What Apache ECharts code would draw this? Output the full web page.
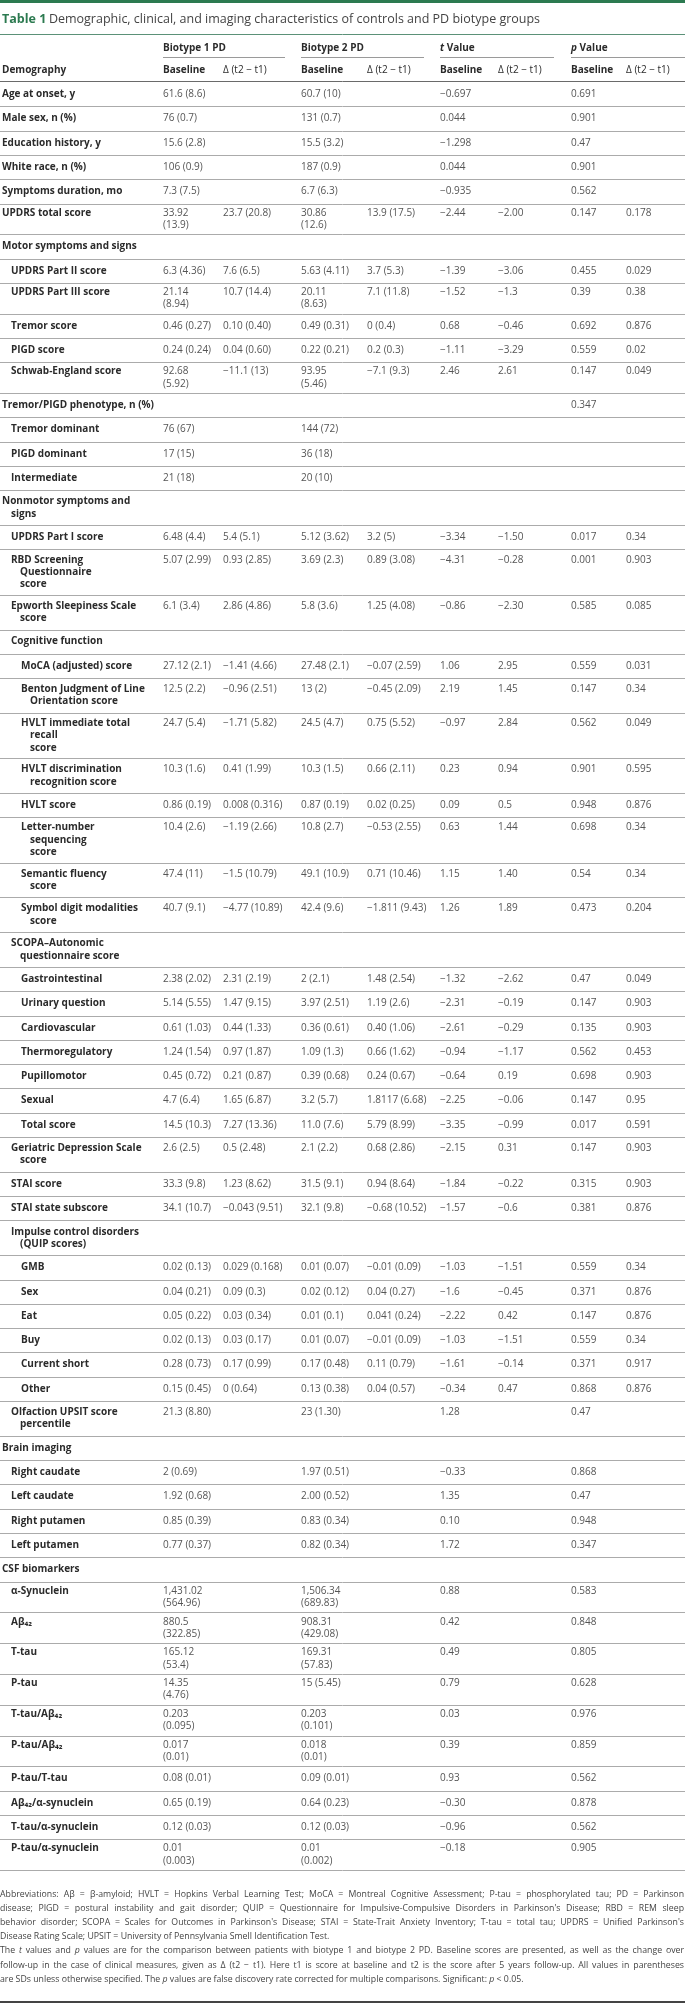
<!DOCTYPE html>
<html>
<head>
<meta charset="utf-8">
<script src="https://cdn.jsdelivr.net/npm/echarts/dist/echarts.min.js"></script>
<style>
  html, body { margin: 0; padding: 0; background: #fff; }
  #c { width: 685px; height: 2009px; }
</style>
</head>
<body>
<div id="c"></div>
<script>
// ---------------- DATA ----------------
const labels = [
  "Age at onset, y", "Male sex, n (%)", "Education history, y", "White race, n (%)", "Symptoms duration, mo",
  "UPDRS total score", "Motor symptoms and signs", "UPDRS Part II score", "UPDRS Part III score", "Tremor score",
  "PIGD score", "Schwab-England score", "Tremor/PIGD phenotype, n (%)", "Tremor dominant", "PIGD dominant",
  "Intermediate", "Nonmotor symptoms and\nsigns", "UPDRS Part I score", "RBD Screening\nQuestionnaire\nscore",
  "Epworth Sleepiness Scale\nscore", "Cognitive function", "MoCA (adjusted) score", "Benton Judgment of Line\nOrientation score",
  "HVLT immediate total\nrecall\nscore", "HVLT discrimination\nrecognition score", "HVLT score", "Letter-number\nsequencing\nscore",
  "Semantic fluency\nscore", "Symbol digit modalities\nscore", "SCOPA–Autonomic\nquestionnaire score", "Gastrointestinal",
  "Urinary question", "Cardiovascular", "Thermoregulatory", "Pupillomotor", "Sexual", "Total score",
  "Geriatric Depression Scale\nscore", "STAI score", "STAI state subscore", "Impulse control disorders\n(QUIP scores)",
  "GMB", "Sex", "Eat", "Buy", "Current short", "Other", "Olfaction UPSIT score\npercentile", "Brain imaging",
  "Right caudate", "Left caudate", "Right putamen", "Left putamen", "CSF biomarkers", "α-Synuclein", "Aβ₄₂", "T-tau",
  "P-tau", "T-tau/Aβ₄₂", "P-tau/Aβ₄₂", "P-tau/T-tau", "Aβ₄₂/α-synuclein", "T-tau/α-synuclein", "P-tau/α-synuclein"
];
const levels = [
  0,0,0,0,0, 0,0,1,1,1, 1,1,0,1,1, 1,0,1,1, 1,1,2,2, 2,2,2,2, 2,2,1,2,
  2,2,2,2,2,2, 1,1,1,1, 2,2,2,2,2,2,1,0, 1,1,1,1,0,1,1,1, 1,1,1,1,1,1,1
];
const b1Base = [
  "61.6 (8.6)","76 (0.7)","15.6 (2.8)","106 (0.9)","7.3 (7.5)",
  "33.92\n(13.9)","","6.3 (4.36)","21.14\n(8.94)","0.46 (0.27)",
  "0.24 (0.24)","92.68\n(5.92)","","76 (67)","17 (15)",
  "21 (18)","","6.48 (4.4)","5.07 (2.99)",
  "6.1 (3.4)","","27.12 (2.1)","12.5 (2.2)",
  "24.7 (5.4)","10.3 (1.6)","0.86 (0.19)","10.4 (2.6)",
  "47.4 (11)","40.7 (9.1)","","2.38 (2.02)",
  "5.14 (5.55)","0.61 (1.03)","1.24 (1.54)","0.45 (0.72)","4.7 (6.4)","14.5 (10.3)",
  "2.6 (2.5)","33.3 (9.8)","34.1 (10.7)","",
  "0.02 (0.13)","0.04 (0.21)","0.05 (0.22)","0.02 (0.13)","0.28 (0.73)","0.15 (0.45)","21.3 (8.80)","",
  "2 (0.69)","1.92 (0.68)","0.85 (0.39)","0.77 (0.37)","","1,431.02\n(564.96)","880.5\n(322.85)","165.12\n(53.4)",
  "14.35\n(4.76)","0.203\n(0.095)","0.017\n(0.01)","0.08 (0.01)","0.65 (0.19)","0.12 (0.03)","0.01\n(0.003)"
];
const b1Delta = [
  "","","","","",
  "23.7 (20.8)","","7.6 (6.5)","10.7 (14.4)","0.10 (0.40)",
  "0.04 (0.60)","−11.1 (13)","","","",
  "","","5.4 (5.1)","0.93 (2.85)",
  "2.86 (4.86)","","−1.41 (4.66)","−0.96 (2.51)",
  "−1.71 (5.82)","0.41 (1.99)","0.008 (0.316)","−1.19 (2.66)",
  "−1.5 (10.79)","−4.77 (10.89)","","2.31 (2.19)",
  "1.47 (9.15)","0.44 (1.33)","0.97 (1.87)","0.21 (0.87)","1.65 (6.87)","7.27 (13.36)",
  "0.5 (2.48)","1.23 (8.62)","−0.043 (9.51)","",
  "0.029 (0.168)","0.09 (0.3)","0.03 (0.34)","0.03 (0.17)","0.17 (0.99)","0 (0.64)","","",
  "","","","","","","","",
  "","","","","","",""
];
const b2Base = [
  "60.7 (10)","131 (0.7)","15.5 (3.2)","187 (0.9)","6.7 (6.3)",
  "30.86\n(12.6)","","5.63 (4.11)","20.11\n(8.63)","0.49 (0.31)",
  "0.22 (0.21)","93.95\n(5.46)","","144 (72)","36 (18)",
  "20 (10)","","5.12 (3.62)","3.69 (2.3)",
  "5.8 (3.6)","","27.48 (2.1)","13 (2)",
  "24.5 (4.7)","10.3 (1.5)","0.87 (0.19)","10.8 (2.7)",
  "49.1 (10.9)","42.4 (9.6)","","2 (2.1)",
  "3.97 (2.51)","0.36 (0.61)","1.09 (1.3)","0.39 (0.68)","3.2 (5.7)","11.0 (7.6)",
  "2.1 (2.2)","31.5 (9.1)","32.1 (9.8)","",
  "0.01 (0.07)","0.02 (0.12)","0.01 (0.1)","0.01 (0.07)","0.17 (0.48)","0.13 (0.38)","23 (1.30)","",
  "1.97 (0.51)","2.00 (0.52)","0.83 (0.34)","0.82 (0.34)","","1,506.34\n(689.83)","908.31\n(429.08)","169.31\n(57.83)",
  "15 (5.45)","0.203\n(0.101)","0.018\n(0.01)","0.09 (0.01)","0.64 (0.23)","0.12 (0.03)","0.01\n(0.002)"
];
const b2Delta = [
  "","","","","",
  "13.9 (17.5)","","3.7 (5.3)","7.1 (11.8)","0 (0.4)",
  "0.2 (0.3)","−7.1 (9.3)","","","",
  "","","3.2 (5)","0.89 (3.08)",
  "1.25 (4.08)","","−0.07 (2.59)","−0.45 (2.09)",
  "0.75 (5.52)","0.66 (2.11)","0.02 (0.25)","−0.53 (2.55)",
  "0.71 (10.46)","−1.811 (9.43)","","1.48 (2.54)",
  "1.19 (2.6)","0.40 (1.06)","0.66 (1.62)","0.24 (0.67)","1.8117 (6.68)","5.79 (8.99)",
  "0.68 (2.86)","0.94 (8.64)","−0.68 (10.52)","",
  "−0.01 (0.09)","0.04 (0.27)","0.041 (0.24)","−0.01 (0.09)","0.11 (0.79)","0.04 (0.57)","","",
  "","","","","","","","",
  "","","","","","",""
];
const tBase = [
  "−0.697","0.044","−1.298","0.044","−0.935",
  "−2.44","","−1.39","−1.52","0.68",
  "−1.11","2.46","","","",
  "","","−3.34","−4.31",
  "−0.86","","1.06","2.19",
  "−0.97","0.23","0.09","0.63",
  "1.15","1.26","","−1.32",
  "−2.31","−2.61","−0.94","−0.64","−2.25","−3.35",
  "−2.15","−1.84","−1.57","",
  "−1.03","−1.6","−2.22","−1.03","−1.61","−0.34","1.28","",
  "−0.33","1.35","0.10","1.72","","0.88","0.42","0.49",
  "0.79","0.03","0.39","0.93","−0.30","−0.96","−0.18"
];
const tDelta = [
  "","","","","",
  "−2.00","","−3.06","−1.3","−0.46",
  "−3.29","2.61","","","",
  "","","−1.50","−0.28",
  "−2.30","","2.95","1.45",
  "2.84","0.94","0.5","1.44",
  "1.40","1.89","","−2.62",
  "−0.19","−0.29","−1.17","0.19","−0.06","−0.99",
  "0.31","−0.22","−0.6","",
  "−1.51","−0.45","0.42","−1.51","−0.14","0.47","","",
  "","","","","","","","",
  "","","","","","",""
];
const pBase = [
  "0.691","0.901","0.47","0.901","0.562",
  "0.147","","0.455","0.39","0.692",
  "0.559","0.147","0.347","","",
  "","","0.017","0.001",
  "0.585","","0.559","0.147",
  "0.562","0.901","0.948","0.698",
  "0.54","0.473","","0.47",
  "0.147","0.135","0.562","0.698","0.147","0.017",
  "0.147","0.315","0.381","",
  "0.559","0.371","0.147","0.559","0.371","0.868","0.47","",
  "0.868","0.47","0.948","0.347","","0.583","0.848","0.805",
  "0.628","0.976","0.859","0.562","0.878","0.562","0.905"
];
const pDelta = [
  "","","","","",
  "0.178","","0.029","0.38","0.876",
  "0.02","0.049","","","",
  "","","0.34","0.903",
  "0.085","","0.031","0.34",
  "0.049","0.595","0.876","0.34",
  "0.34","0.204","","0.049",
  "0.903","0.903","0.453","0.903","0.95","0.591",
  "0.903","0.903","0.876","",
  "0.34","0.876","0.876","0.34","0.917","0.876","","",
  "","","","","","","","",
  "","","","","","",""
];
const groupHeaders = ["Biotype 1 PD", "Biotype 2 PD", "{i|t} Value", "{i|p} Value"];
const subHeaders = ["Baseline", "Δ (t2 − t1)"];
const stubHeader = "Demography";
const titleLead = "Table 1";
const titleText = "Demographic, clinical, and imaging characteristics of controls and PD biotype groups";
const footLines = [
  "Abbreviations: Aβ = β-amyloid; HVLT = Hopkins Verbal Learning Test; MoCA = Montreal Cognitive Assessment; P-tau = phosphorylated tau; PD = Parkinson",
  "disease; PIGD = postural instability and gait disorder; QUIP = Questionnaire for Impulsive-Compulsive Disorders in Parkinson's Disease; RBD = REM sleep",
  "behavior disorder; SCOPA = Scales for Outcomes in Parkinson's Disease; STAI = State-Trait Anxiety Inventory; T-tau = total tau; UPDRS = Unified Parkinson's",
  "Disease Rating Scale; UPSIT = University of Pennsylvania Smell Identification Test.",
  "The {i|t} values and {i|p} values are for the comparison between patients with biotype 1 and biotype 2 PD. Baseline scores are presented, as well as the change over",
  "follow-up in the case of clinical measures, given as Δ (t2 − t1). Here t1 is score at baseline and t2 is the score after 5 years follow-up. All values in parentheses",
  "are SDs unless otherwise specified. The {i|p} values are false discovery rate corrected for multiple comparisons. Significant: {i|p} < 0.05."
];
const footJustified = [true, true, true, false, true, true, false];

// ---------------- LAYOUT ----------------
const W = 685, H = 2009;
const FONT = '"Open Sans", "Noto Sans", sans-serif';
const COL_X = [163, 223, 301, 367, 440, 498, 571, 626];
const GROUP_SPAN = [[163, 285], [301, 424], [440, 554], [571, 685]];
const LEVEL_X = [2, 11, 21];
const CONT_INDENT = 9;
const ROW_START = 82, PITCH = 24.3, EXTRA_LABEL = 10.5, EXTRA_VALUE = 6.5, LHC = 12.3;
const cols = [b1Base, b1Delta, b2Base, b2Delta, tBase, tDelta, pBase, pDelta];

const labelLines = labels.map(l => l.split('\n').length);
const valueLines = labels.map((l, i) => {
  let n = 1;
  cols.forEach(c => { if (c[i]) n = Math.max(n, c[i].split('\n').length); });
  return n;
});
const rowH = labels.map((l, i) =>
  PITCH + Math.max((labelLines[i] - 1) * EXTRA_LABEL, (valueLines[i] - 1) * EXTRA_VALUE));
const rowTop = [];
let acc = ROW_START;
rowH.forEach(h => { rowTop.push(acc); acc += h; });

const LABEL_COLOR = '#2b2b2b', VALUE_COLOR = '#555555', RULE_COLOR = '#ababab';
const GREEN = '#2c7a50';

function txt(api, x, y, text, o) {
  const p = api.coord([x, y]);
  return {
    type: 'text', x: p[0], y: p[1],
    style: Object.assign({
      text: text, fill: VALUE_COLOR, fontSize: 10, fontFamily: FONT,
      fontWeight: 'normal', align: 'left', verticalAlign: 'middle'
    }, o || {})
  };
}
function hline(api, x1, x2, y, color, w) {
  const a = api.coord([x1, y]), b = api.coord([x2, y]);
  const yy = Math.round(a[1]) + ((w || 1) % 2 ? 0.5 : 0);
  return { type: 'line', shape: { x1: a[0], y1: yy, x2: b[0], y2: yy },
           style: { stroke: color, lineWidth: w || 1 } };
}

function renderRow(params, api) {
  const i = api.value(0);
  const top = rowTop[i];
  const n = Math.max(labelLines[i], valueLines[i]);
  const y0 = top + (rowH[i] - (n - 1) * LHC) / 2;
  const children = [];
  labels[i].split('\n').forEach((t, k) => {
    const x = LEVEL_X[levels[i]] + (k > 0 ? CONT_INDENT : 0);
    children.push(txt(api, x, y0 + k * LHC, t, { fill: LABEL_COLOR, fontWeight: 'bold' }));
  });
  cols.forEach((c, ci) => {
    if (!c[i]) return;
    c[i].split('\n').forEach((t, k) => {
      children.push(txt(api, COL_X[ci], y0 + k * LHC, t));
    });
  });
  children.push(hline(api, 0, W, top + rowH[i], RULE_COLOR, 1));
  return { type: 'group', children: children };
}

function renderHeader(params, api) {
  const ch = [];
  const a = api.coord([0, 0]), b = api.coord([W, 3]);
  ch.push({ type: 'rect', shape: { x: a[0], y: a[1], width: b[0] - a[0], height: b[1] - a[1] },
            style: { fill: GREEN } });
  ch.push(txt(api, 2, 19, '{g|' + titleLead + '} {t|' + titleText + '}', {
    rich: {
      g: { fill: GREEN, fontWeight: 'bold', fontSize: 12.5, fontFamily: FONT },
      t: { fill: '#444', fontSize: 12.5, fontFamily: FONT }
    }
  }));
  ch.push(hline(api, 0, W, 34, '#5b9178', 1));
  groupHeaders.forEach((g, gi) => {
    ch.push(txt(api, GROUP_SPAN[gi][0], 48, g, {
      fill: LABEL_COLOR, fontWeight: 'bold',
      rich: { i: { fontStyle: 'italic', fontWeight: 'bold', fill: LABEL_COLOR, fontSize: 10, fontFamily: FONT } }
    }));
    ch.push(hline(api, GROUP_SPAN[gi][0], GROUP_SPAN[gi][1], 56.5, '#9a9a9a', 1));
  });
  ch.push(txt(api, LEVEL_X[0], 70, stubHeader, { fill: LABEL_COLOR, fontWeight: 'bold' }));
  COL_X.forEach((x, ci) => {
    const even = ci % 2 === 0;
    ch.push(txt(api, x, 70, subHeaders[ci % 2],
      { fill: LABEL_COLOR, fontWeight: even ? 'bold' : 'normal' }));
  });
  ch.push(hline(api, 0, W, ROW_START - 0.6, '#6a6a6a', 1));
  return { type: 'group', children: ch };
}

// footnote with justified lines
const FOOT_TOP = 1894, FOOT_LH = 14.2, FOOT_FS = 8.75, FOOT_RIGHT = 684;
const mctx = document.createElement('canvas').getContext('2d');
function measure(s, italic) {
  mctx.font = (italic ? 'italic ' : '') + FOOT_FS + 'px ' + FONT;
  return mctx.measureText(s).width;
}
function renderFoot(params, api) {
  const ch = [];
  const fst = { fill: '#444', fontSize: FOOT_FS };
  footLines.forEach((l, k) => {
    const y = FOOT_TOP + k * FOOT_LH;
    const words = l.split(' ').map(w => {
      const m = w.match(/^\{i\|(.*)\}$/);
      return m ? { t: m[1], it: true } : { t: w, it: false };
    });
    const widths = words.map(w => measure(w.t, w.it));
    const total = widths.reduce((s, v) => s + v, 0);
    const space = measure(' ', false);
    const gap = footJustified[k] ? (FOOT_RIGHT - total) / (words.length - 1) : space;
    let x = 0;
    words.forEach((w, wi) => {
      ch.push(txt(api, x, y, w.t, Object.assign({}, fst, w.it ? { fontStyle: 'italic' } : {})));
      x += widths[wi] + gap;
    });
  });
  ch.push(hline(api, 0, W, 2002, '#444', 2));
  return { type: 'group', children: ch };
}

const chart = echarts.init(document.getElementById('c'), null, { renderer: 'canvas' });
chart.setOption({
  animation: false,
  backgroundColor: '#ffffff',
  grid: { left: 0, right: 0, top: 0, bottom: 0 },
  xAxis: { type: 'value', min: 0, max: W, show: false },
  yAxis: { type: 'value', min: 0, max: H, inverse: true, show: false },
  series: [
    { type: 'custom', name: 'header', renderItem: renderHeader, data: [[0, 0]], clip: false, silent: true },
    { type: 'custom', name: 'rows', renderItem: renderRow,
      data: labels.map((_, i) => [i, 0]), clip: false, silent: true },
    { type: 'custom', name: 'notes', renderItem: renderFoot, data: [[0, 0]], clip: false, silent: true }
  ]
});
</script>
</body>
</html>
